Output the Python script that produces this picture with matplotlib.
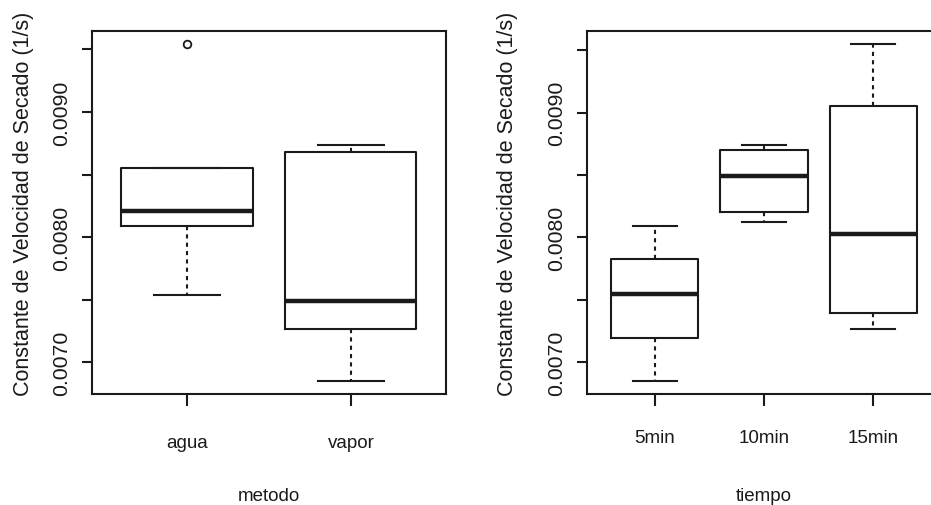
import matplotlib
matplotlib.use("Agg")
import matplotlib.pyplot as plt

plt.rcParams['font.family'] = ['Liberation Sans', 'DejaVu Sans']

# ---- data: drying-rate constant by method and by time ----
metodo_cats = ["agua", "vapor"]
metodo_whislo = [0.007540, 0.006853]
metodo_q1 = [0.008090, 0.007266]
metodo_med = [0.008210, 0.007492]
metodo_q3 = [0.008556, 0.008684]
metodo_whishi = [0.008556, 0.008737]
metodo_fliers = [[0.009540], []]

tiempo_cats = ["5min", "10min", "15min"]
tiempo_whislo = [0.006853, 0.008125, 0.007266]
tiempo_q1 = [0.007194, 0.008205, 0.007393]
tiempo_med = [0.007545, 0.008495, 0.008030]
tiempo_q3 = [0.007824, 0.008697, 0.009056]
tiempo_whishi = [0.008090, 0.008737, 0.009546]
tiempo_fliers = [[], [], []]

y_ticks = [0.0070, 0.0075, 0.0080, 0.0085, 0.0090, 0.0095]
y_ticklabels = ["0.0070", "", "0.0080", "", "0.0090", ""]

y_title = "Constante de Velocidad de Secado (1/s)"

LINE = "#1a1a1a"
W, H = 931, 506

fig = plt.figure(figsize=(W / 100, H / 100), dpi=100)
fig.patch.set_facecolor("white")


def add_axes_px(left, top, width, height):
    return fig.add_axes([left / W, 1 - (top + height) / H, width / W, height / H])


def draw_panel(ax, cats, whislo, q1, med, q3, whishi, fliers, xlabel, ylabel_x,
               ytick_pad, xtick_pad):
    stats = []
    for i in range(len(cats)):
        stats.append(dict(whislo=whislo[i], q1=q1[i], med=med[i], q3=q3[i],
                          whishi=whishi[i], fliers=fliers[i], label=cats[i]))
    n = len(cats)
    ax.bxp(stats, positions=list(range(1, n + 1)), widths=0.8, showfliers=True,
           boxprops=dict(color=LINE, lw=1.5),
           medianprops=dict(color=LINE, lw=3.2, solid_capstyle="butt"),
           whiskerprops=dict(color=LINE, lw=1.5, linestyle=(0, (2, 2))),
           capprops=dict(color=LINE, lw=1.5),
           flierprops=dict(marker="o", markerfacecolor="none", markeredgecolor=LINE,
                           markersize=5.5, markeredgewidth=1.3))
    # R-style 4% padding on both axes
    ax.set_xlim(0.5 - 0.04 * n, n + 0.5 + 0.04 * n)
    vals = whislo + whishi + [v for f in fliers for v in f]
    lo, hi = min(vals), max(vals)
    pad = 0.04 * (hi - lo)
    ax.set_ylim(lo - pad, hi + pad)

    ax.set_yticks(y_ticks)
    ax.set_yticklabels(y_ticklabels, rotation=90, va="center", fontsize=15.3)
    ax.set_xticks(list(range(1, n + 1)))
    ax.set_xticklabels(cats, fontsize=13.5)
    ax.tick_params(axis="y", direction="out", length=7.2, width=1.5, color=LINE,
                   pad=ytick_pad, labelcolor=LINE)
    ax.tick_params(axis="x", direction="out", length=8.6, width=1.5, color=LINE,
                   pad=xtick_pad, labelcolor=LINE)
    for s in ax.spines.values():
        s.set_linewidth(1.5)
        s.set_color(LINE)

    ax.set_xlabel(xlabel, fontsize=13.5, va="baseline", color=LINE)
    ax.xaxis.set_label_coords(0.5, (395 - 501) / 363)
    ax.set_ylabel(y_title, fontsize=15.5, va="baseline", color=LINE)
    ax.yaxis.set_label_coords(ylabel_x, (395 - 204) / 363)


ax1 = add_axes_px(92, 32, 354, 363)
draw_panel(ax1, metodo_cats, metodo_whislo, metodo_q1, metodo_med, metodo_q3,
           metodo_whishi, metodo_fliers, "metodo", (29.5 - 92) / 354, 7.5, 20.5)

ax2 = add_axes_px(587, 32, 354, 363)
draw_panel(ax2, tiempo_cats, tiempo_whislo, tiempo_q1, tiempo_med, tiempo_q3,
           tiempo_whishi, tiempo_fliers, "tiempo", (513 - 587) / 354, 7.5, 16.5)

fig.savefig("out.png", dpi=100)
